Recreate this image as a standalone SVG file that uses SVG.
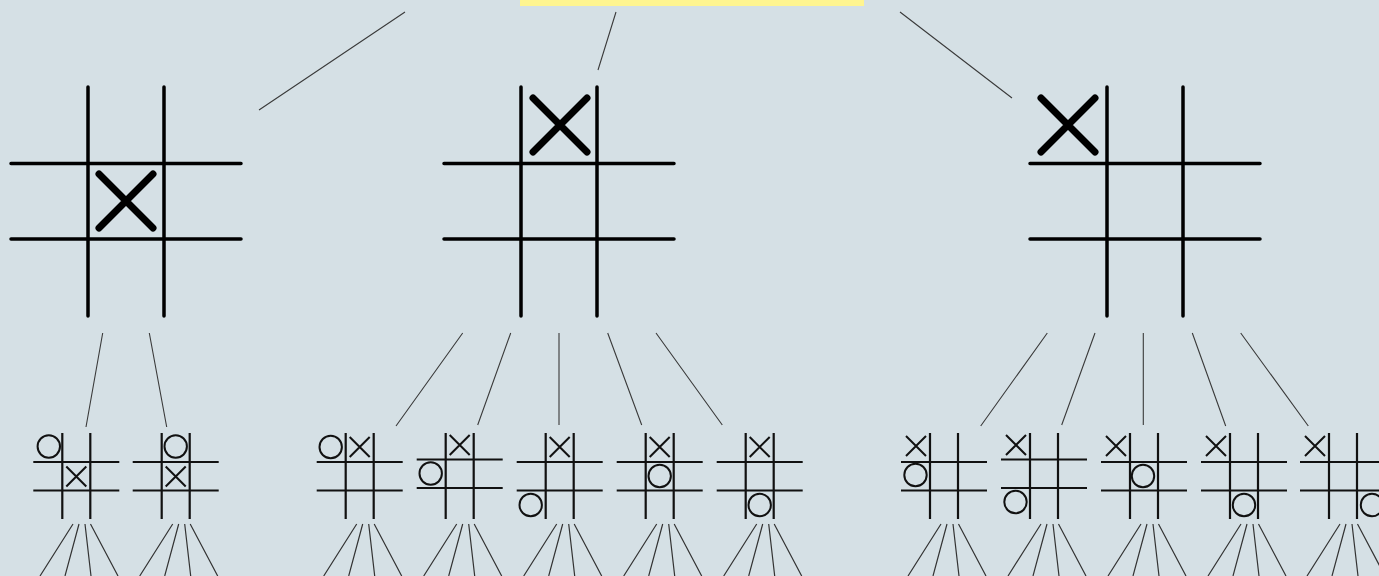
<svg xmlns="http://www.w3.org/2000/svg" width="1379" height="576" viewBox="0 0 1379 576">
<style>
.bg{fill:#d5e0e5}
.grid{stroke:#000;stroke-width:3.5;stroke-linecap:round;fill:none}
.bx{stroke:#000;stroke-width:7;stroke-linecap:round;fill:none}
.sg{stroke:#111;stroke-width:2.2;fill:none}
.sx{stroke:#111;stroke-width:2;fill:none}
.so{stroke:#111;stroke-width:2;fill:none}
.edge{stroke:#3a3a3a;stroke-width:1.1;fill:none}
.fan{stroke:#333;stroke-width:1.2;fill:none}
</style>
<defs>
<g id="bgrid"><path class="grid" d="M77 0V229M153 0V229M0 76.5H230M0 152H230"/></g>
<g id="bX"><path class="bx" d="M-27 -27L27 27M27 -27L-27 27"/></g>
<g id="sgrid"><path class="sg" d="M29 0V86M57 0V86M0 29H86M0 57.5H86"/></g>
<g id="sgridb"><path class="sg" d="M29 0V86M57 0V86M0 26.5H86M0 55H86"/></g>
<g id="sX"><path class="sx" d="M-10 -10L10 10M10 -10L-10 10"/></g>
<g id="sO"><circle class="so" r="11.2"/></g>
</defs>
<rect class="bg" x="0" y="0" width="1379" height="576"/>
<rect id="root" x="520" y="0" width="344" height="6" fill="#fff590"/>

<g id="connectors">
<path class="edge" d="M405 12L259 110M616 12L598 70M900 12L1012 98"/>
<path class="edge" d="M102.7 333L86 427M149.3 333L166.7 427"/>
<path class="edge" d="M462.7 333L396 426M510.7 333L477.7 425M559 333L559 425M607.7 333L641.7 425M656 333L722.3 425"/>
<path class="edge" d="M1047.3 333L980.7 426M1095 333L1061.7 425M1143.3 333L1143.3 425M1192.3 333L1225.7 426M1240.7 333L1308.3 426"/>
<g class="fan">
<path d="M73 524L40 576M79 524L65 576M85 524L91 576M90.5 524L118 576"/>
<path d="M172.7 524L139.7 576M178.7 524L164.7 576M184.7 524L190.7 576M190.2 524L217.7 576"/>
<path d="M356.7 524L323.7 576M362.7 524L348.7 576M368.7 524L374.7 576M374.2 524L401.7 576"/>
<path d="M456.7 524L423.7 576M462.7 524L448.7 576M468.7 524L474.7 576M474.2 524L501.7 576"/>
<path d="M556.7 524L523.7 576M562.7 524L548.7 576M568.7 524L574.7 576M574.2 524L601.7 576"/>
<path d="M656.7 524L623.7 576M662.7 524L648.7 576M668.7 524L674.7 576M674.2 524L701.7 576"/>
<path d="M756.7 524L723.7 576M762.7 524L748.7 576M768.7 524L774.7 576M774.2 524L801.7 576"/>
<path d="M941 524L908 576M947 524L933 576M953 524L959 576M958.5 524L986 576"/>
<path d="M1041 524L1008 576M1047 524L1033 576M1053 524L1059 576M1058.5 524L1086 576"/>
<path d="M1141 524L1108 576M1147 524L1133 576M1153 524L1159 576M1158.5 524L1186 576"/>
<path d="M1241 524L1208 576M1247 524L1233 576M1253 524L1259 576M1258.5 524L1286 576"/>
<path d="M1340 524L1307 576M1346 524L1332 576M1352 524L1358 576M1357.5 524L1385 576"/>
</g>
</g>

<g id="b-left" transform="translate(11,87)">
<use href="#bgrid"/><use href="#bX" x="115" y="114"/>
</g>
<g id="b-mid" transform="translate(444,87)">
<use href="#bgrid"/><use href="#bX" x="116" y="38"/>
</g>
<g id="b-right" transform="translate(1030,87)">
<use href="#bgrid"/><use href="#bX" x="38" y="38"/>
</g>

<g id="s1" transform="translate(33.3,433)">
<use href="#sgrid"/><use href="#sO" x="15.5" y="13.5"/><use href="#sX" x="43" y="43.5"/>
</g>
<g id="s2" transform="translate(132.7,433)">
<use href="#sgrid"/><use href="#sO" x="43" y="13.5"/><use href="#sX" x="43" y="43.5"/>
</g>
<g id="s3" transform="translate(316.7,433)">
<use href="#sgrid"/><use href="#sO" x="14" y="14"/><use href="#sX" x="43" y="14"/>
</g>
<g id="s4" transform="translate(416.7,433)">
<use href="#sgridb"/><use href="#sX" x="43" y="12"/><use href="#sO" x="14" y="40.5"/>
</g>
<g id="s5" transform="translate(516.7,433)">
<use href="#sgrid"/><use href="#sX" x="43" y="14"/><use href="#sO" x="14" y="72"/>
</g>
<g id="s6" transform="translate(616.7,433)">
<use href="#sgrid"/><use href="#sX" x="43" y="14"/><use href="#sO" x="43" y="43"/>
</g>
<g id="s7" transform="translate(716.7,433)">
<use href="#sgrid"/><use href="#sX" x="43" y="14"/><use href="#sO" x="43" y="72"/>
</g>
<g id="s8" transform="translate(901,433)">
<use href="#sgrid"/><use href="#sX" x="15" y="13"/><use href="#sO" x="14.5" y="42"/>
</g>
<g id="s9" transform="translate(1001,433)">
<use href="#sgridb"/><use href="#sX" x="15" y="12"/><use href="#sO" x="14.5" y="69"/>
</g>
<g id="s10" transform="translate(1101,433)">
<use href="#sgrid"/><use href="#sX" x="15" y="13"/><use href="#sO" x="42" y="43"/>
</g>
<g id="s11" transform="translate(1201,433)">
<use href="#sgrid"/><use href="#sX" x="15" y="13"/><use href="#sO" x="43" y="72"/>
</g>
<g id="s12" transform="translate(1300,433)">
<use href="#sgrid"/><use href="#sX" x="15" y="13"/><use href="#sO" x="72" y="72"/>
</g>
</svg>
